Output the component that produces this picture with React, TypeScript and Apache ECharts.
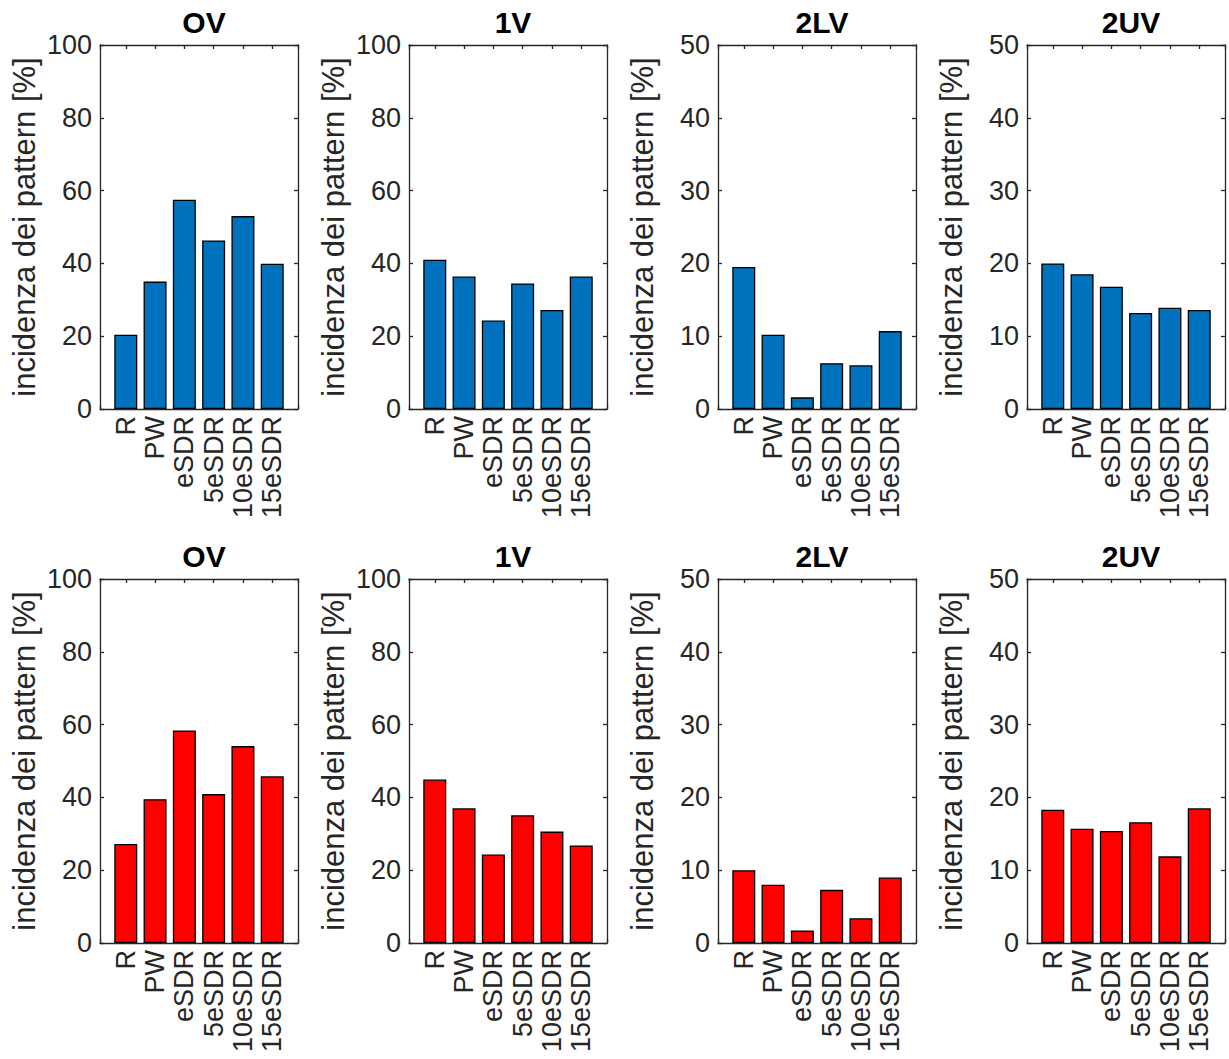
import React, { useEffect, useRef } from "react";
import * as echarts from "echarts";

// Pattern categories along each x axis
const categories = ["R", "PW", "eSDR", "5eSDR", "10eSDR", "15eSDR"];
const panelTitles = ["OV", "1V", "2LV", "2UV"];
const yMaxima = [100, 100, 50, 50];
const yIntervals = [20, 20, 10, 10];
const yAxisName = "incidenza dei pattern [%]";

// Upper row (blue)
const ovUpper = [20.4, 35.0, 57.5, 46.3, 53.0, 39.9];
const v1Upper = [41.0, 36.4, 24.3, 34.5, 27.2, 36.4];
const lv2Upper = [19.5, 10.2, 1.6, 6.3, 6.0, 10.7];
const uv2Upper = [20.0, 18.5, 16.8, 13.2, 13.9, 13.6];

// Lower row (red)
const ovLower = [27.2, 39.5, 58.4, 40.9, 54.1, 45.8];
const v1Lower = [44.9, 37.0, 24.3, 35.1, 30.6, 26.8];
const lv2Lower = [10.0, 8.0, 1.7, 7.3, 3.4, 9.0];
const uv2Lower = [18.3, 15.7, 15.4, 16.6, 11.9, 18.5];

const rows = [
  { values: [ovUpper, v1Upper, lv2Upper, uv2Upper], color: "#0072BD" },
  { values: [ovLower, v1Lower, lv2Lower, uv2Lower], color: "#FF0000" },
];

const FONT = "'Liberation Sans', Arial, Helvetica, sans-serif";
const AXIS_COLOR = "#262626";

// Panel frame geometry
const boxLefts = [100, 409, 718, 1027];
const boxTops = [45, 579];
const boxWidth = 198;
const boxHeight = 364;
const xMin = 0.12;
const xMax = 6.88;

function buildOption() {
  const grid: any[] = [];
  const xAxis: any[] = [];
  const yAxis: any[] = [];
  const series: any[] = [];
  const title: any[] = [];

  rows.forEach((row, r) => {
    row.values.forEach((vals, c) => {
      const g = grid.length;
      grid.push({
        left: boxLefts[c],
        top: boxTops[r],
        width: boxWidth,
        height: boxHeight,
        containLabel: false,
      });
      title.push({
        text: panelTitles[c],
        left: boxLefts[c] + boxWidth / 2,
        top: boxTops[r] - 43,
        textAlign: "center",
        textStyle: {
          fontFamily: FONT,
          fontSize: 30,
          fontWeight: "bold",
          color: "#000",
        },
      });

      const xBase = {
        type: "value",
        gridIndex: g,
        min: xMin,
        max: xMax,
        splitNumber: 5,
        splitLine: { show: false },
        axisLine: { show: true, onZero: false, lineStyle: { color: AXIS_COLOR, width: 1.3 } },
        axisTick: {
          show: true,
          inside: true,
          length: 4,
          lineStyle: { color: AXIS_COLOR, width: 1.3 },
        },
      };
      xAxis.push({
        ...xBase,
        position: "bottom",
        axisLabel: {
          show: true,
          rotate: 90,
          margin: 7,
          fontFamily: FONT,
          fontSize: 27,
          color: AXIS_COLOR,
          showMinLabel: true,
          showMaxLabel: true,
          formatter: (v: number) =>
            Number.isInteger(v) && v >= 1 && v <= categories.length ? categories[v - 1] : "",
        },
      });
      xAxis.push({
        ...xBase,
        position: "top",
        axisLabel: { show: false },
      });

      const yBase = {
        type: "value",
        gridIndex: g,
        min: 0,
        max: yMaxima[c],
        interval: yIntervals[c],
        splitLine: { show: false },
        axisLine: { show: true, onZero: false, lineStyle: { color: AXIS_COLOR, width: 1.3 } },
        axisTick: {
          show: true,
          inside: true,
          length: 4,
          lineStyle: { color: AXIS_COLOR, width: 1.3 },
        },
      };
      yAxis.push({
        ...yBase,
        position: "left",
        name: yAxisName,
        nameLocation: "middle",
        nameRotate: 90,
        nameGap: 60,
        nameTextStyle: { fontFamily: FONT, fontSize: 31, color: AXIS_COLOR },
        axisLabel: {
          show: true,
          margin: 8,
          fontFamily: FONT,
          fontSize: 27,
          color: AXIS_COLOR,
        },
      });
      yAxis.push({
        ...yBase,
        position: "right",
        axisLabel: { show: false },
      });

      series.push({
        type: "bar",
        xAxisIndex: g * 2,
        yAxisIndex: g * 2,
        barWidth: 23,
        data: vals.map((v, i) => [i + 1, v]),
        itemStyle: {
          color: row.color,
          borderColor: "#000",
          borderWidth: 1.3,
        },
        silent: true,
      });
    });
  });

  return {
    animation: false,
    backgroundColor: "#ffffff",
    title,
    grid,
    xAxis,
    yAxis,
    series,
  };
}

export default function App() {
  const ref = useRef<HTMLDivElement>(null);

  useEffect(() => {
    if (!ref.current) return;
    const chart = echarts.init(ref.current, undefined, { renderer: "svg" });
    chart.setOption(buildOption() as any);
    return () => chart.dispose();
  }, []);

  return (
    <div
      ref={ref}
      style={{ position: "fixed", left: 0, top: 0, width: 1229, height: 1059, background: "#fff" }}
    />
  );
}
